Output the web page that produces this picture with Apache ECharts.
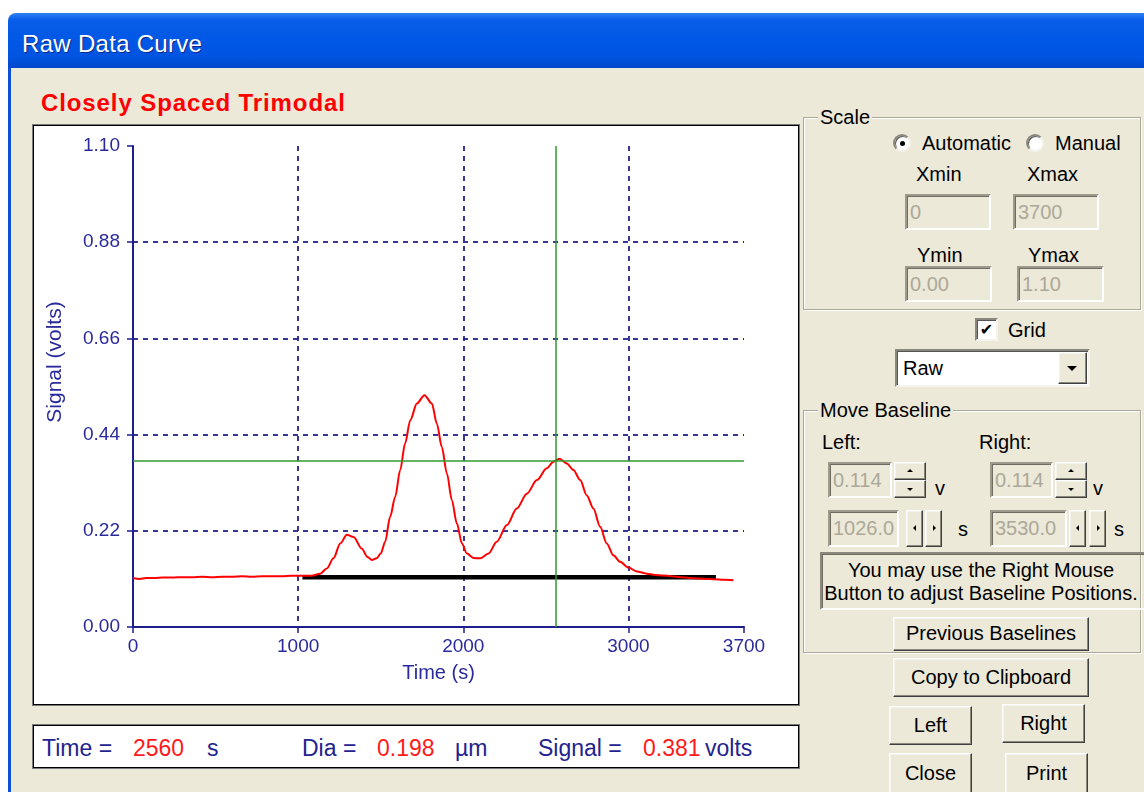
<!DOCTYPE html>
<html>
<head>
<meta charset="utf-8">
<script src="https://cdn.jsdelivr.net/npm/echarts@6/dist/echarts.min.js"></script>
<style>
  html,body{margin:0;padding:0;background:#fff;width:1144px;height:792px;overflow:hidden;font-family:'Liberation Sans',Arial,sans-serif;}
  .abs{position:absolute;}
  #titlebar{left:8px;top:13px;width:1140px;height:55px;border-radius:8px 0 0 0;
    background:linear-gradient(to bottom,#2f80f5 0%,#0a5ee8 12%,#0058e6 45%,#0054e1 80%,#0048cc 100%);}
  #titletext{left:22px;top:30px;color:#fff;font-size:24px;letter-spacing:0.3px;text-shadow:1px 1px 0 #0b2a88;white-space:nowrap;}
  #body{left:8px;top:68px;width:1140px;height:730px;background:#ECE9D8;border-left:3px solid #0a4fd6;box-sizing:border-box;}
  #plottitle{left:41px;top:89px;color:#ff0000;font-size:24px;font-weight:bold;letter-spacing:0.9px;white-space:nowrap;}
  #plotbox{left:32px;top:124px;width:768px;height:582px;background:#fff;border:1px solid #7a7a7a;box-shadow:inset 0 0 0 1px #000;box-sizing:border-box;}
  #chart{left:34px;top:126px;width:764px;height:578px;}
  #readbox{left:32px;top:724px;width:768px;height:45px;background:#fff;border:1px solid #7a7a7a;box-shadow:inset 0 0 0 1px #000;box-sizing:border-box;}
  .rd{position:absolute;top:734px;font-size:23px;line-height:28px;white-space:nowrap;}
  .nv{color:#23238f;}
  .rr{color:#ff1a1a;}
  .t{position:absolute;font-size:20px;line-height:22px;color:#000;white-space:nowrap;}
  .grp{position:absolute;border:1px solid #aca899;box-shadow:inset 1px 1px 0 #fff,1px 1px 0 #fff;box-sizing:border-box;}
  .leg{position:absolute;background:#ECE9D8;font-size:20px;line-height:22px;padding:0 2px;white-space:nowrap;}
  .edit{position:absolute;box-sizing:border-box;background:#ECE9D8;border-style:solid;border-width:2px;border-color:#9d9a8c #fff #fff #9d9a8c;box-shadow:inset 1px 1px 0 #6f6d62;color:#aca899;font-size:20px;padding-left:3px;white-space:nowrap;}
  .btn{position:absolute;box-sizing:border-box;background:#ECE9D8;border-style:solid;border-width:1px;border-color:#fff #404040 #404040 #fff;box-shadow:inset -1px -1px 0 #8a887c,inset 1px 1px 0 #f4f3ee;font-size:20px;text-align:center;color:#000;white-space:nowrap;}
  .radio{position:absolute;width:18px;height:18px;border-radius:50%;background:#fff;box-sizing:border-box;border:2px solid;border-color:#8a887c #f4f3ee #f4f3ee #8a887c;box-shadow:inset 1px 1px 0 #555;}
  .dot{position:absolute;left:5px;top:5px;width:5px;height:5px;border-radius:50%;background:#000;}
  .tri-up{position:absolute;width:0;height:0;border-left:3px solid transparent;border-right:3px solid transparent;border-bottom:3px solid #000;}
  .tri-dn{position:absolute;width:0;height:0;border-left:3px solid transparent;border-right:3px solid transparent;border-top:3px solid #000;}
  .tri-l{position:absolute;width:0;height:0;border-top:3px solid transparent;border-bottom:3px solid transparent;border-right:3px solid #000;}
  .tri-r{position:absolute;width:0;height:0;border-top:3px solid transparent;border-bottom:3px solid transparent;border-left:3px solid #000;}
</style>
</head>
<body>
<div id="titlebar" class="abs"></div>
<div id="titletext" class="abs">Raw Data Curve</div>
<div id="body" class="abs"></div>
<div id="plottitle" class="abs">Closely Spaced Trimodal</div>
<div id="plotbox" class="abs"></div>
<div id="chart" class="abs"></div>
<div id="readbox" class="abs"></div>
<div id="readout"></div>

<!-- Scale group -->
<div class="grp" style="left:803px;top:117px;width:338px;height:193px;"></div>
<div class="leg" style="left:818px;top:106px;">Scale</div>
<div class="radio" style="left:893px;top:134px;"><div class="dot"></div></div>
<div class="t" style="left:922px;top:132px;">Automatic</div>
<div class="radio" style="left:1026px;top:134px;"></div>
<div class="t" style="left:1055px;top:132px;">Manual</div>
<div class="t" style="left:916px;top:163px;">Xmin</div>
<div class="t" style="left:1027px;top:163px;">Xmax</div>
<div class="edit" style="left:905px;top:194px;width:86px;height:36px;line-height:32px;">0</div>
<div class="edit" style="left:1013px;top:194px;width:86px;height:36px;line-height:32px;">3700</div>
<div class="t" style="left:917px;top:244px;">Ymin</div>
<div class="t" style="left:1028px;top:244px;">Ymax</div>
<div class="edit" style="left:905px;top:266px;width:87px;height:36px;line-height:32px;">0.00</div>
<div class="edit" style="left:1017px;top:266px;width:87px;height:36px;line-height:32px;">1.10</div>

<!-- Grid checkbox -->
<div class="abs" style="left:975px;top:318px;width:23px;height:23px;background:#fff;box-sizing:border-box;border:2px solid;border-color:#8a887c #f4f3ee #f4f3ee #8a887c;box-shadow:inset 1px 1px 0 #555;font-size:16px;line-height:19px;text-align:center;font-family:'DejaVu Sans',sans-serif;">✔</div>
<div class="t" style="left:1008px;top:319px;">Grid</div>

<!-- Dropdown -->
<div class="abs" style="left:895px;top:349px;width:195px;height:38px;background:#fff;box-sizing:border-box;border:2px solid;border-color:#8a887c #f4f3ee #f4f3ee #8a887c;box-shadow:inset 1px 1px 0 #555;"></div>
<div class="t" style="left:903px;top:357px;">Raw</div>
<div class="btn" style="left:1058px;top:352px;width:29px;height:32px;"></div>
<div class="abs" style="left:1067px;top:366px;width:0;height:0;border-left:5px solid transparent;border-right:5px solid transparent;border-top:5px solid #000;"></div>

<!-- Move Baseline group -->
<div class="grp" style="left:803px;top:410px;width:338px;height:243px;"></div>
<div class="leg" style="left:818px;top:399px;">Move Baseline</div>
<div class="t" style="left:822px;top:431px;">Left:</div>
<div class="t" style="left:979px;top:431px;">Right:</div>

<div class="edit" style="left:828px;top:462px;width:64px;height:36px;line-height:32px;">0.114</div>
<div class="btn" style="left:894px;top:462px;width:32px;height:18px;"></div>
<div class="tri-up" style="left:907px;top:469px;"></div>
<div class="btn" style="left:894px;top:480px;width:32px;height:18px;"></div>
<div class="tri-dn" style="left:907px;top:488px;"></div>
<div class="t" style="left:935px;top:477px;">v</div>

<div class="edit" style="left:828px;top:510px;width:71px;height:37px;line-height:33px;">1026.0</div>
<div class="btn" style="left:906px;top:510px;width:17px;height:37px;"></div>
<div class="tri-l" style="left:913px;top:525px;"></div>
<div class="btn" style="left:925px;top:510px;width:17px;height:37px;"></div>
<div class="tri-r" style="left:933px;top:525px;"></div>
<div class="t" style="left:958px;top:518px;">s</div>

<div class="edit" style="left:990px;top:462px;width:63px;height:36px;line-height:32px;">0.114</div>
<div class="btn" style="left:1055px;top:462px;width:32px;height:18px;"></div>
<div class="tri-up" style="left:1068px;top:469px;"></div>
<div class="btn" style="left:1055px;top:480px;width:32px;height:18px;"></div>
<div class="tri-dn" style="left:1068px;top:488px;"></div>
<div class="t" style="left:1093px;top:477px;">v</div>

<div class="edit" style="left:990px;top:510px;width:77px;height:37px;line-height:33px;">3530.0</div>
<div class="btn" style="left:1069px;top:510px;width:17px;height:37px;"></div>
<div class="tri-l" style="left:1076px;top:525px;"></div>
<div class="btn" style="left:1089px;top:510px;width:17px;height:37px;"></div>
<div class="tri-r" style="left:1097px;top:525px;"></div>
<div class="t" style="left:1114px;top:518px;">s</div>

<div class="abs" style="left:820px;top:552px;width:330px;height:58px;box-sizing:border-box;border:2px solid;border-color:#8a887c #fff #fff #8a887c;box-shadow:inset 1px 1px 0 #6f6d62;"></div>
<div class="t" style="left:820px;top:559px;width:322px;text-align:center;line-height:23px;">You may use the Right Mouse<br>Button to adjust Baseline Positions.</div>

<div class="btn" style="left:893px;top:617px;width:196px;height:34px;line-height:31px;">Previous Baselines</div>
<div class="btn" style="left:893px;top:658px;width:196px;height:39px;line-height:36px;">Copy to Clipboard</div>
<div class="btn" style="left:889px;top:706px;width:83px;height:39px;line-height:36px;">Left</div>
<div class="btn" style="left:1002px;top:704px;width:83px;height:39px;line-height:36px;">Right</div>
<div class="btn" style="left:889px;top:753px;width:83px;height:42px;line-height:38px;">Close</div>
<div class="btn" style="left:1005px;top:753px;width:83px;height:42px;line-height:38px;">Print</div>

<script>
// ---- data ----
const time = [0, 40, 80, 130, 180, 240, 300, 360, 420, 480, 540, 600, 660, 720, 780, 840, 900, 960, 1020, 1080,
  1134, 1174, 1214, 1255, 1295, 1336, 1386, 1420, 1447, 1475, 1500, 1527, 1557, 1588, 1618, 1648, 1679, 1719, 1765,
  1810, 1840, 1870, 1901, 1931, 1961, 1992, 2022, 2062, 2102, 2153, 2203, 2264, 2324, 2385, 2446, 2506, 2546, 2582,
  2627, 2667, 2708, 2748, 2788, 2829, 2869, 2909, 2950, 3000, 3051, 3111, 3160, 3212, 3260, 3313, 3370, 3434, 3480,
  3515, 3580, 3636];
const signal = [0.112, 0.110, 0.112, 0.112, 0.113, 0.113, 0.114, 0.114, 0.115, 0.114, 0.115, 0.115, 0.116, 0.115,
  0.116, 0.116, 0.116, 0.117, 0.117, 0.117,
  0.122, 0.134, 0.157, 0.191, 0.211, 0.206, 0.179, 0.160, 0.153, 0.157, 0.168, 0.195, 0.252, 0.298, 0.359, 0.420,
  0.473, 0.511, 0.530,
  0.511, 0.465, 0.412, 0.351, 0.290, 0.237, 0.191, 0.168, 0.158, 0.157, 0.168, 0.195, 0.233, 0.271, 0.305, 0.336,
  0.363, 0.378, 0.385,
  0.374, 0.359, 0.336, 0.301, 0.271, 0.229, 0.191, 0.164, 0.149, 0.136, 0.127, 0.122, 0.119, 0.118, 0.116, 0.114,
  0.112, 0.111, 0.110, 0.109, 0.108, 0.107];
const baselineTime = [1026, 3530];
const baselineSignal = [0.114, 0.114];
const cursorTime = 2560;
const cursorSignal = 0.381;
const cursorDia = 0.198;
const xTicks = [0, 1000, 2000, 3000, 3700];
const yTicks = [0.00, 0.22, 0.44, 0.66, 0.88, 1.10];

// ---- readout line ----
const readout = [
  ['Time =', 'nv', 42], [String(cursorTime), 'rr', 133], ['s', 'nv', 207],
  ['Dia =', 'nv', 302], [cursorDia.toFixed(3), 'rr', 377], ['\u00b5m', 'nv', 455],
  ['Signal =', 'nv', 538], [cursorSignal.toFixed(3), 'rr', 643], ['volts', 'nv', 705]
];
const rdEl = document.getElementById('readout');
readout.forEach(function (r) {
  const d = document.createElement('div');
  d.className = 'rd ' + r[1];
  d.style.left = r[2] + 'px';
  d.textContent = r[0];
  rdEl.appendChild(d);
});

// ---- chart ----
const navy = '#1e1e8c';
const labNavy = '#2a2a9c';
const chart = echarts.init(document.getElementById('chart'), null, {renderer: 'canvas'});
const axisCommon = {
  axisLine: {show: true, lineStyle: {color: navy, width: 2}},
  axisTick: {show: true, inside: false, length: 6, lineStyle: {color: navy, width: 1.5}},
  splitLine: {show: true, showMinLine: false, showMaxLine: false,
    lineStyle: {color: '#22228c', width: 1.8, type: [5, 5]}},
  nameTextStyle: {color: labNavy, fontSize: 20, fontFamily: 'Liberation Sans'}
};
chart.setOption({
  animation: false,
  backgroundColor: '#fff',
  grid: {left: 99, top: 20, right: 54, bottom: 77, containLabel: false},
  xAxis: Object.assign({}, axisCommon, {
    type: 'value', min: xTicks[0], max: xTicks[xTicks.length - 1], interval: 1000,
    axisLabel: {color: labNavy, fontSize: 19, fontFamily: 'Liberation Sans', margin: 10,
      formatter: function (v) { return String(Math.round(v)); }},
    name: 'Time (s)', nameLocation: 'middle', nameGap: 36
  }),
  yAxis: Object.assign({}, axisCommon, {
    type: 'value', min: yTicks[0], max: yTicks[yTicks.length - 1], interval: 0.22,
    axisLabel: {color: labNavy, fontSize: 19, fontFamily: 'Liberation Sans', margin: 13,
      formatter: function (v) { return v.toFixed(2); }}
  }),
  graphic: [{
    type: 'text',
    x: 21, y: 236, rotation: Math.PI / 2,
    style: {text: 'Signal (volts)', fill: labNavy, font: '21px "Liberation Sans"',
      textAlign: 'center', textVerticalAlign: 'middle'}
  }],
  series: [
    {type: 'line', silent: true, symbol: 'none', z: 2,
      data: baselineTime.map(function (t, i) { return [t, baselineSignal[i]]; }),
      lineStyle: {color: '#000', width: 4.5}},
    {type: 'line', silent: true, symbol: 'none', z: 3, smooth: 0.3, smoothMonotone: 'x',
      data: time.map(function (t, i) { return [t, signal[i]]; }),
      lineStyle: {color: '#ff0000', width: 2}},
    {type: 'line', silent: true, symbol: 'none', z: 4, data: [],
      markLine: {silent: true, symbol: 'none', animation: false, label: {show: false},
        lineStyle: {color: '#2e9b2e', width: 1.5, type: 'solid'},
        data: [{xAxis: cursorTime}, {yAxis: cursorSignal}]}}
  ]
});
</script>
</body>
</html>
